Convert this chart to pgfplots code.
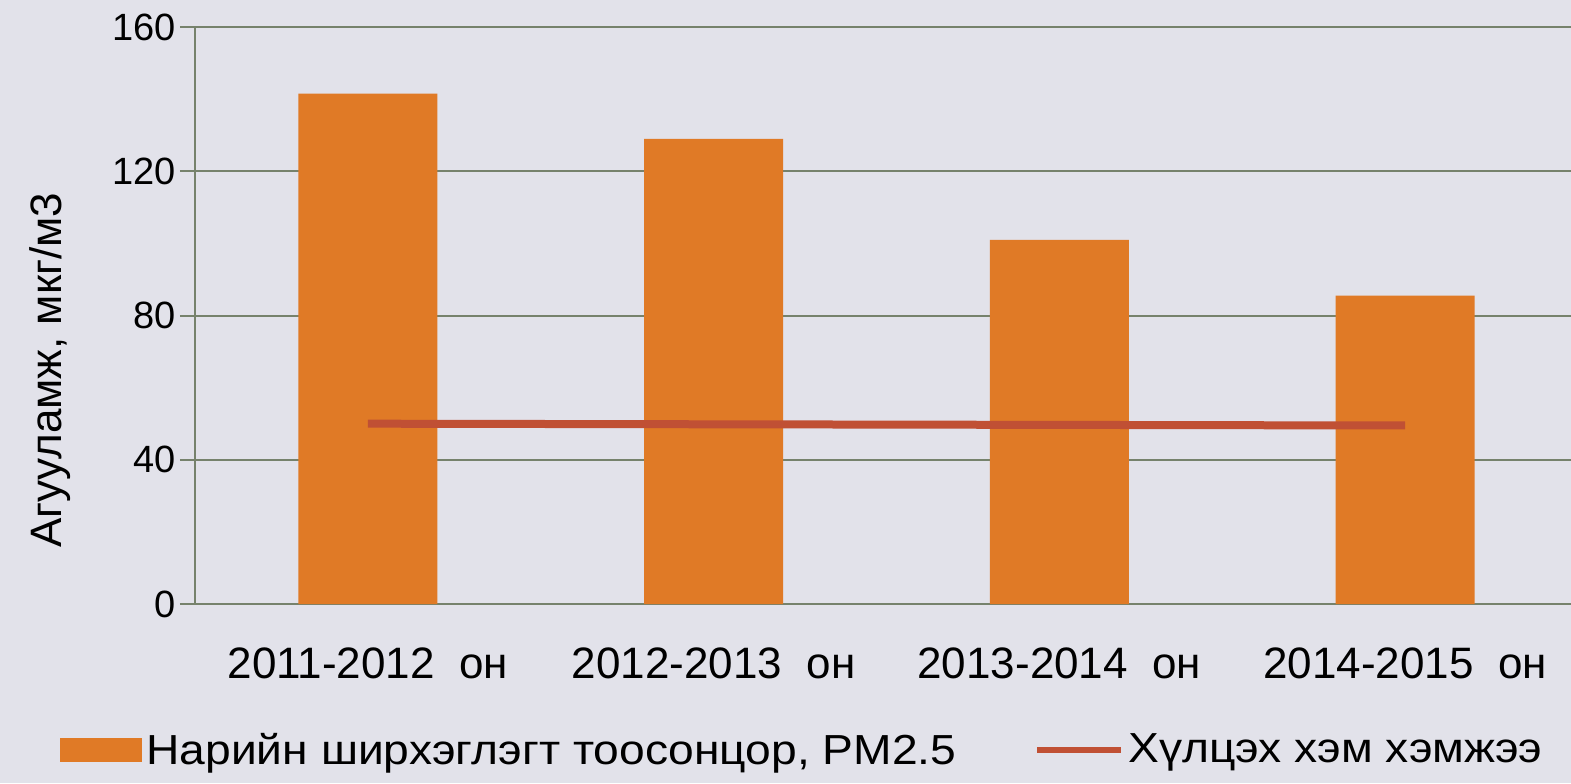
\documentclass[border=0pt]{standalone}
\usepackage{fontspec}
\setmainfont{Liberation Sans}
\newfontfamily\legfont[FakeStretch=1.1]{Liberation Sans}
\usepackage{pgfplots}
\pgfplotsset{compat=1.18}
\definecolor{bgcol}{RGB}{226,226,234}
\definecolor{barcol}{RGB}{224,122,38}
\definecolor{linecol}{RGB}{192,80,52}
\definecolor{gridcol}{RGB}{118,130,108}
\begin{document}
\begin{tikzpicture}
\fill[bgcol] (-97.5pt,-89.5pt) rectangle (688pt,302pt);
\begin{axis}[
  at={(0,0)}, anchor=south west,
  scale only axis, width=688pt, height=288.5pt,
  xmin=-0.5, xmax=3.48, ymin=0, ymax=160,
  axis lines*=left,
  axis line style={gridcol, line width=1pt},
  ytick={0,40,80,120,160},
  ymajorgrids, major grid style={gridcol, line width=1pt},
  tick align=outside, major tick length=7.5pt,
  ytick style={gridcol, line width=1pt},
  xtick style={draw=none},
  xtick={0,1,2,3},
  xticklabels={2011-2012\ \ он, 2012-2013\ \ он, 2013-2014\ \ он, 2014-2015\ \ он},
  /pgf/number format/assume math mode=true,
  yticklabel style={font=\fontsize{19}{22}\selectfont, xshift=1.5pt},
  xticklabel style={font=\fontsize{22}{26}\selectfont, yshift=-11pt},
  ylabel={Агууламж, мкг/м3},
  ylabel style={font=\fontsize{22}{26}\selectfont, at={(axis description cs:-0.105,0.405)}, anchor=center},
  legend style={draw=none, fill=none, inner sep=0pt, at={(axis description cs:0,0)}, anchor=west,
    xshift=-67.5pt, yshift=-73pt, font=\legfont\fontsize{21}{24}\selectfont,
    /tikz/every even column/.append style={column sep=37pt}},
  legend columns=2, legend cell align=left,
]
\addplot[ybar, bar width=69.5pt, fill=barcol, draw=none,
  legend image code/.code={\fill[barcol] (0pt,-6pt) rectangle (41pt,6pt);}]
  coordinates {(0,141.5) (1,129) (2,101) (3,85.5)};
\addlegendentry{Нарийн ширхэглэгт тоосонцор, PM2.5}
\addplot[linecol, line width=4pt, sharp plot, mark=none,
  legend image code/.code={\draw[linecol, line width=3pt] (0pt,0pt) -- (42pt,0pt);}]
  coordinates {(0,50) (3,49.5)};
\addlegendentry{Хүлцэх хэм хэмжээ}
\end{axis}
\pgfresetboundingbox
\path[use as bounding box] (-97.5pt,-89.5pt) rectangle (688pt,302pt);
\end{tikzpicture}
\end{document}
